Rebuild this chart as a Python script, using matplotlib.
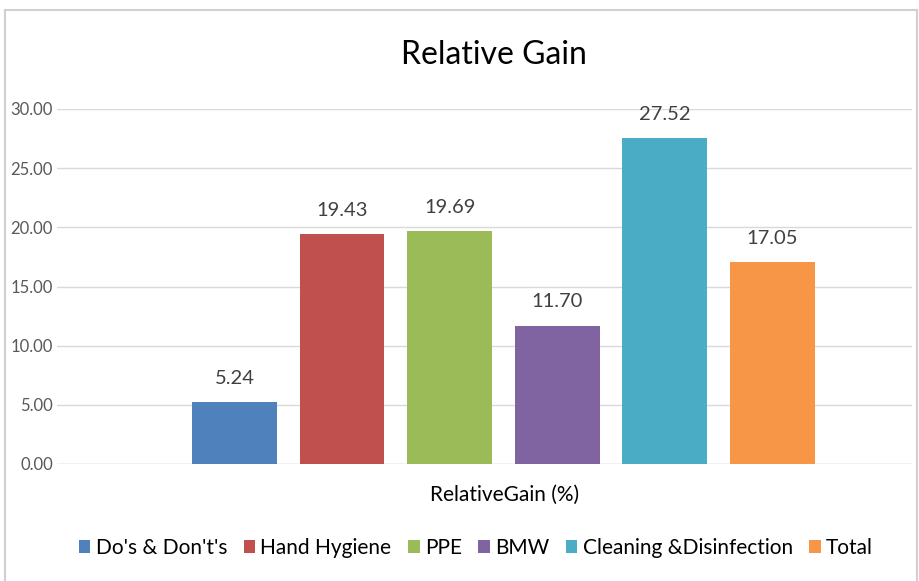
import numpy as np
import matplotlib.pyplot as plt
from matplotlib.lines import Line2D

series = ["Do's & Don't's", "Hand Hygiene", "PPE", "BMW", "Cleaning &Disinfection", "Total"]
values = [5.24, 19.43, 19.69, 11.70, 27.52, 17.05]
colors = ["#4F81BD", "#C0504D", "#9BBB59", "#8064A2", "#4BACC6", "#F79646"]
yticks = [0, 5, 10, 15, 20, 25, 30]

plt.rcParams['font.family'] = ['Lato', 'DejaVu Sans']

W, H = 920, 581
fig = plt.figure(figsize=(W / 100, H / 100), dpi=100)
ax = fig.add_axes([57 / W, (H - 464) / H, (912 - 57) / W, (464 - 109) / H])

x = np.arange(len(series))
bars = ax.bar(x, values, width=0.79, color=colors, label=series, zorder=3)
for xi, v in zip(x, values):
    ax.text(xi, v + 1.3, f"{v:.2f}", ha="center", va="bottom", fontsize=14.5,
            color="#404040", clip_on=False)

ax.set_xlim(-1.65, 6.30)
ax.set_ylim(0, 30)
ax.set_yticks(yticks)
ax.set_yticklabels([f"{t:.2f}" for t in yticks], fontsize=12, color="#595959")
ax.set_xticks([])
ax.grid(axis="y", color="#D9D9D9", linewidth=1, zorder=0)
ax.tick_params(axis="y", length=0, pad=3)
for s in ax.spines.values():
    s.set_visible(False)
ax.axhline(0, color="#D9D9D9", linewidth=1, zorder=2)

fig.text(494 / W, 1 - 55 / H, "Relative Gain", ha="center", va="center", fontsize=23, color="#000000")
fig.text(505 / W, 1 - 495 / H, "RelativeGain (%)", ha="center", va="center", fontsize=15, color="#000000")

leg = fig.legend(handles=bars, labels=series, loc="center", bbox_to_anchor=(476 / W, 1 - 548 / H),
                 ncol=6, frameon=False, fontsize=15, handlelength=0.55, handleheight=0.55,
                 handletextpad=0.25, columnspacing=0.8)

# chart border
fig.add_artist(Line2D([5 / W, 5 / W], [0, 1 - 10 / H], color="#D0D0D0", linewidth=1.5))
fig.add_artist(Line2D([5 / W, 917 / W], [1 - 10 / H, 1 - 10 / H], color="#D0D0D0", linewidth=1.5))
fig.add_artist(Line2D([917 / W, 917 / W], [0, 1 - 10 / H], color="#D0D0D0", linewidth=1.5))

fig.savefig("out.png", dpi=100)
